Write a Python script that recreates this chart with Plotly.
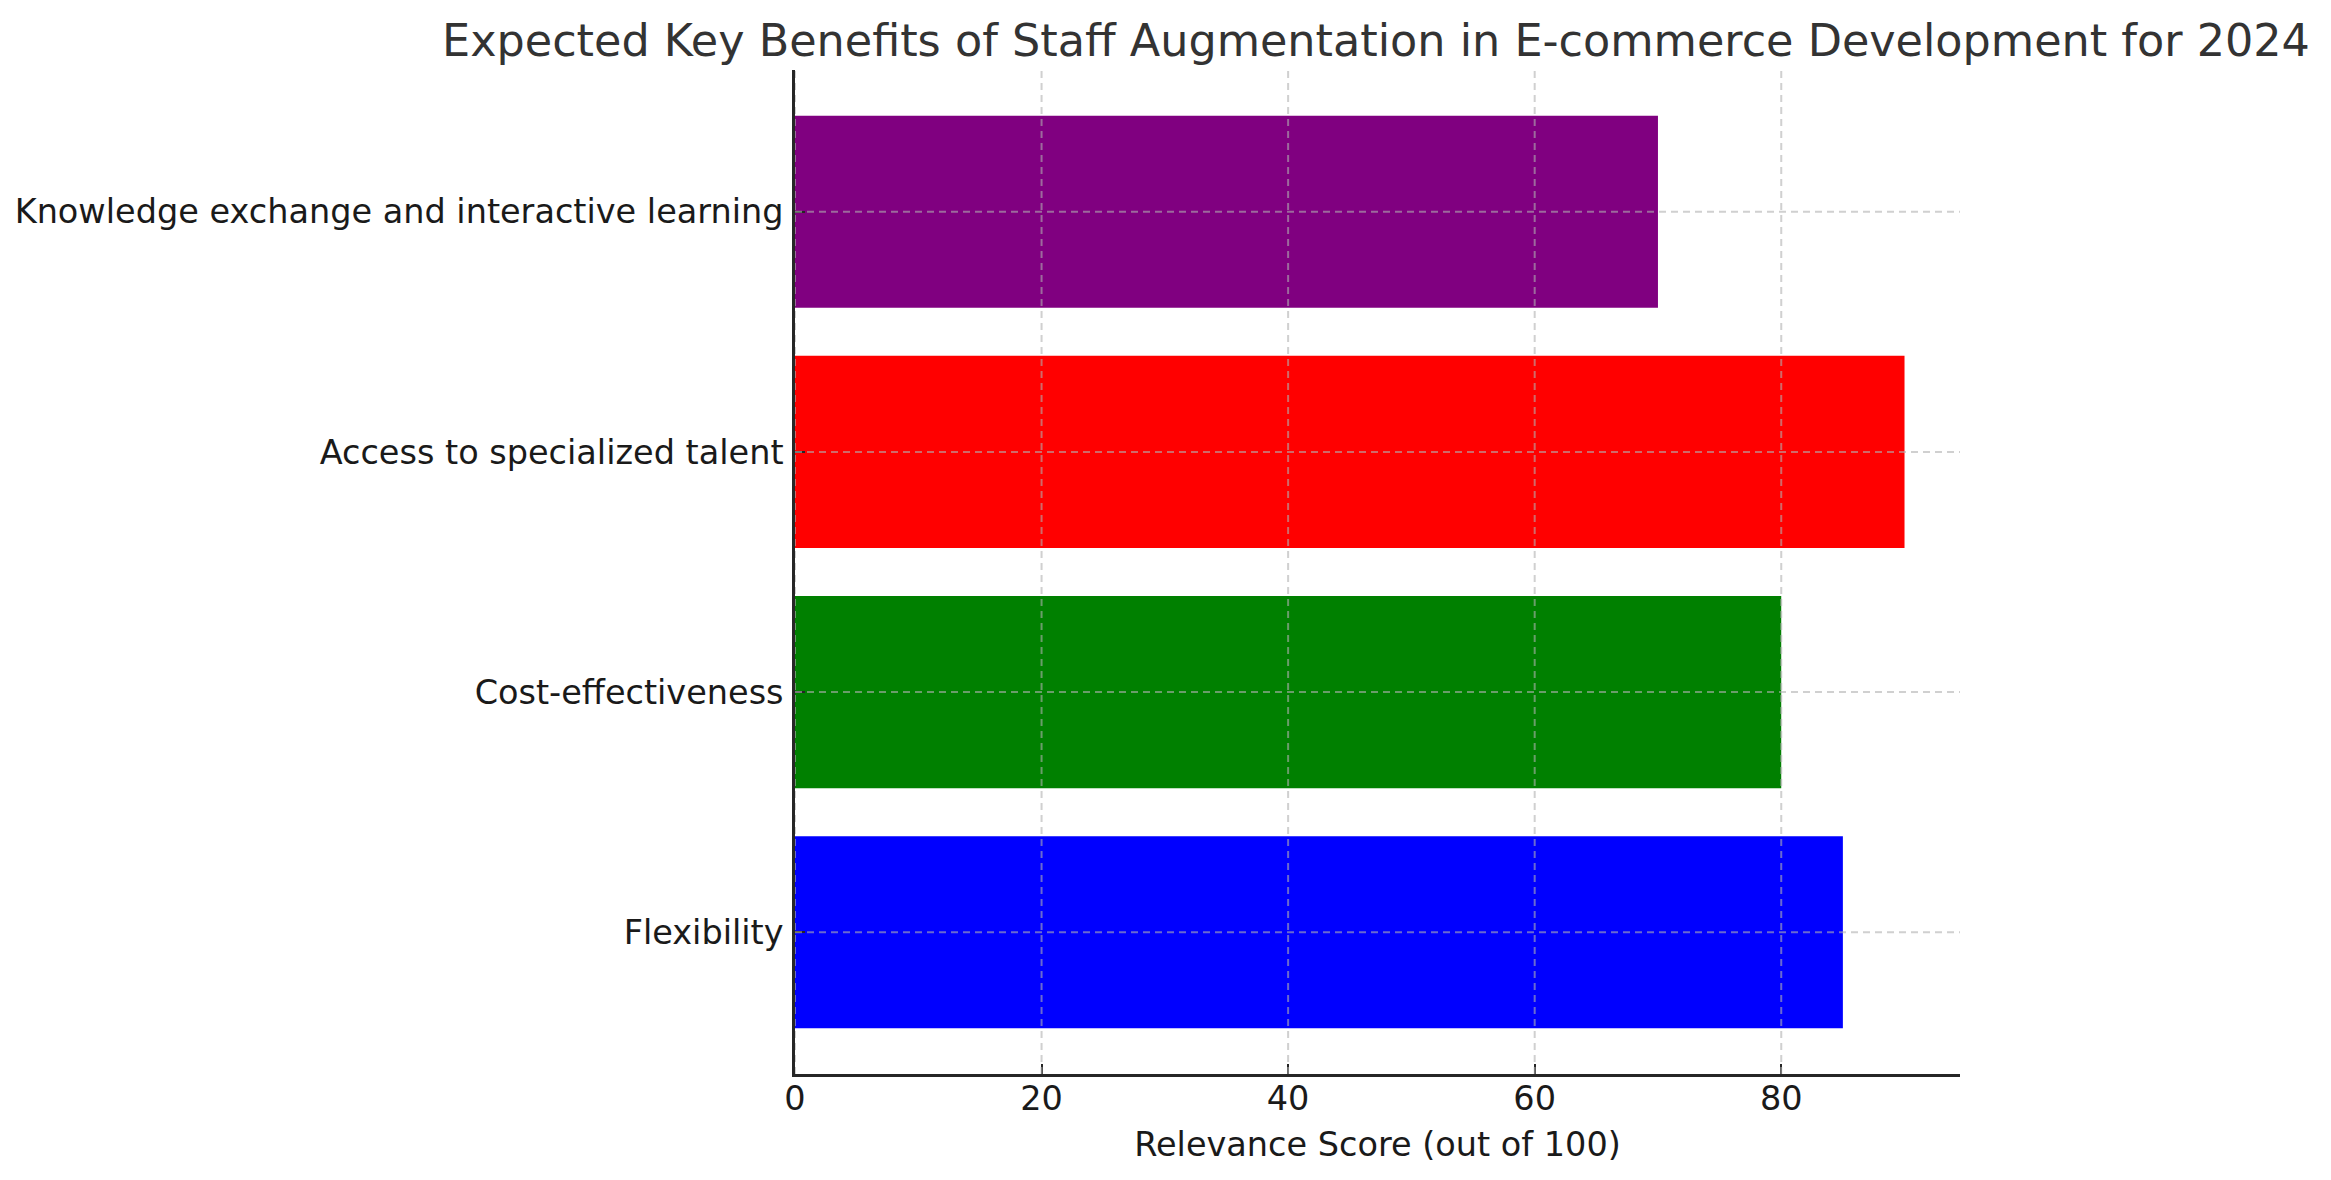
import plotly.graph_objects as go

# data
benefits = [
    "Flexibility",
    "Cost-effectiveness",
    "Access to specialized talent",
    "Knowledge exchange and interactive learning",
]
scores = [85, 80, 90, 70]
bar_colors = ["blue", "green", "red", "purple"]
x_ticks = [0, 20, 40, 60, 80]

GRID = "rgba(176,176,176,0.6)"
FONT = "DejaVu Sans"

fig = go.Figure()
fig.add_trace(go.Bar(
    y=benefits, x=scores, orientation="h",
    marker=dict(color=bar_colors, line=dict(width=0)),
    width=0.8, showlegend=False,
))

# matplotlib draws the grid over the bars, so do it with shapes
shapes = []
for t in x_ticks:
    shapes.append(dict(type="line", xref="x", yref="paper", x0=t, x1=t, y0=0, y1=1,
                       line=dict(color=GRID, width=2, dash="7px,5px"), layer="above"))
for b in benefits:
    shapes.append(dict(type="line", xref="paper", yref="y", x0=0, x1=1, y0=b, y1=b,
                       line=dict(color=GRID, width=2, dash="7px,5px"), layer="above"))

fig.update_layout(
    width=2331, height=1180,
    margin=dict(l=787, r=379, t=62, b=114, autoexpand=False),
    paper_bgcolor="white", plot_bgcolor="white",
    font=dict(family=FONT, size=33, color="#1a1a1a"),
    title=dict(text="Expected Key Benefits of Staff Augmentation in E-commerce Development for 2024",
               font=dict(family=FONT, size=44.5, color="#333333"),
               x=1368 / 2331, xanchor="center", y=1 - 32 / 1180, yanchor="middle"),
    bargap=0.2,
    shapes=shapes,
)
fig.update_xaxes(
    range=[0, 94.5], tickvals=x_ticks, showgrid=False, zeroline=False,
    showline=True, linecolor="#262626", linewidth=2.5,
    ticks="inside", ticklen=10, tickwidth=2, tickcolor="#262626",
    tickfont=dict(size=33.5, color="#1a1a1a"), ticklabelstandoff=-7,
    title=dict(text="Relevance Score (out of 100)", font=dict(size=33.5, color="#1a1a1a"), standoff=16),
    automargin=False,
)
fig.update_yaxes(
    range=[-0.59, 3.59], showgrid=False, zeroline=False,
    showline=True, linecolor="#262626", linewidth=2.5,
    ticks="inside", ticklen=10, tickwidth=2, tickcolor="#262626",
    tickfont=dict(size=33.5, color="#1a1a1a"), ticklabelstandoff=2,
    automargin=False,
)

fig.write_html("out.html")
